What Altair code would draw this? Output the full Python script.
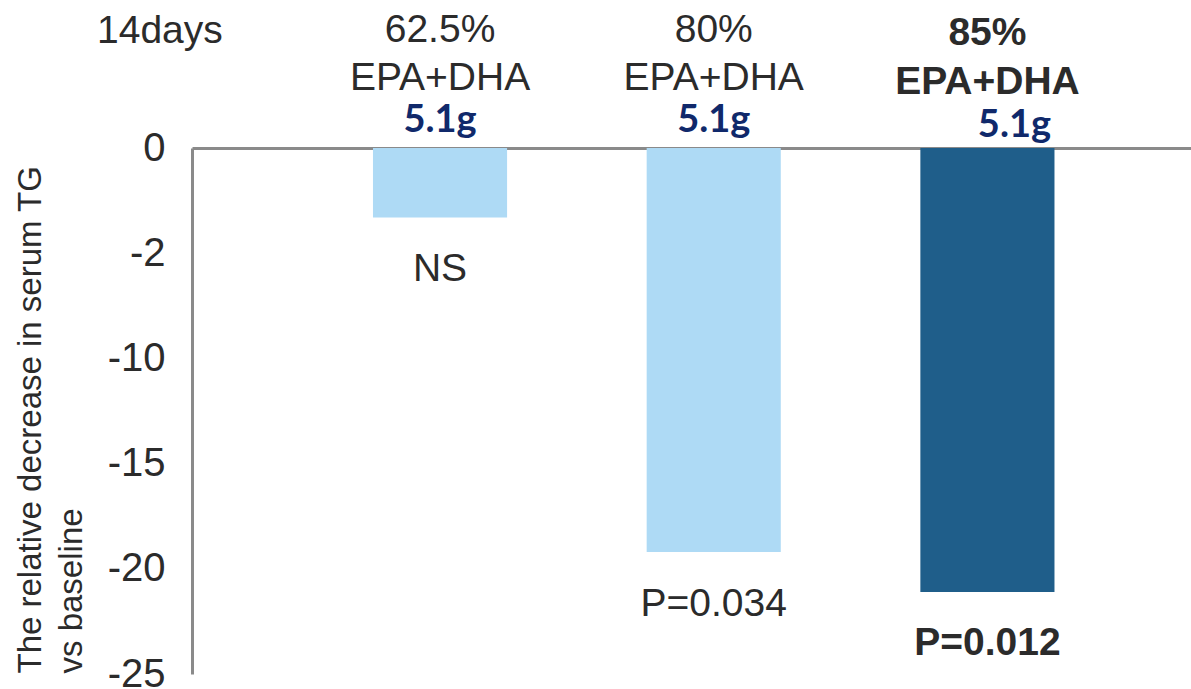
import altair as alt
import pandas as pd

# ---- data ----
groups = ["62.5%", "80%", "85%"]
line2 = ["EPA+DHA", "EPA+DHA", "EPA+DHA"]
doses = ["5.1g", "5.1g", "5.1g"]
values = [-3.3, -19.2, -21.1]
pvals = ["NS", "P=0.034", "P=0.012"]
zero = [0, 0, 0]
y_ticks = [0, -5, -10, -15, -20, -25]
y_tick_labels = ["0", "-2", "-10", "-15", "-20", "-25"]
period = "14days"
y_title = ["The relative decrease in serum TG", "vs baseline"]

df = pd.DataFrame({"group": groups, "line2": line2, "dose": doses,
                   "value": values, "p": pvals, "zero": zero})

FONT = "Liberation Sans"
GRAY = "#2b2b2b"
NAVY = "#10296b"
LIGHT = "#aedaf5"
DARK = "#1f5e8a"

label_expr = ""
for v, t in zip(y_ticks, y_tick_labels):
    label_expr += f"datum.value == {v} ? '{t}' : "
label_expr += "''"

xscale = alt.Scale(domain=groups, paddingInner=0.51, paddingOuter=0.58, align=0.57)
x = alt.X("group:N", scale=xscale, sort=groups,
          axis=alt.Axis(orient="top", labels=False, ticks=False, title=None,
                        domainColor="#8a8a8a", domainWidth=3))

base = alt.Chart(df)

bars = base.mark_bar().encode(
    x=x,
    y=alt.Y("value:Q", scale=alt.Scale(domain=[-25, 0], nice=False),
            axis=alt.Axis(values=y_ticks, labelExpr=label_expr, ticks=False,
                          grid=False, labelPadding=27, labelFont=FONT,
                          labelFontSize=40, labelColor=GRAY,
                          domainColor="#8a8a8a", domainWidth=3,
                          title=y_title, titleFont=FONT, titleFontSize=33,
                          titleFontWeight="normal", titleColor=GRAY,
                          titleAngle=-90, titleAlign="left", titleBaseline="top",
                          titleX=-178, titleY=525, titleLineHeight=41)),
    color=alt.condition(alt.datum.group == "85%", alt.value(DARK), alt.value(LIGHT)),
)

is85 = alt.datum.group == "85%"


def txt(filt, field, yfield, dy, bold=False, font=FONT, size=39, color=GRAY, dx=0):
    return base.transform_filter(filt).mark_text(
        font=font, fontSize=size, color=color,
        fontWeight="bold" if bold else "normal",
        baseline="middle", dy=dy, dx=dx).encode(
        x=x, y=alt.Y(f"{yfield}:Q"), text=f"{field}:N")


layers = [
    bars,
    txt(~is85, "group", "zero", -118),
    txt(is85, "group", "zero", -115, bold=True),
    txt(~is85, "line2", "zero", -70),
    txt(is85, "line2", "zero", -66, bold=True),
    txt(~is85, "dose", "zero", -27, bold=True, font="Lato", size=38, color=NAVY),
    txt(is85, "dose", "zero", -22, bold=True, font="Lato", size=38, color=NAVY, dx=27),
    txt(~is85, "p", "value", 52),
    txt(is85, "p", "value", 51, bold=True),
]

chart = alt.layer(*layers).properties(
    width=999, height=526,
    title=alt.TitleParams(period, anchor="start", frame="group", font=FONT,
                          fontSize=39, fontWeight="normal", color=GRAY, dx=-95,
                          dy=59, baseline="middle", offset=0),
    autosize="none",
    padding={"left": 192, "top": 148, "right": 0, "bottom": 15},
    background="white",
).configure_view(stroke=None)

chart.save("out.html", embed_options={"renderer": "svg", "actions": False})
